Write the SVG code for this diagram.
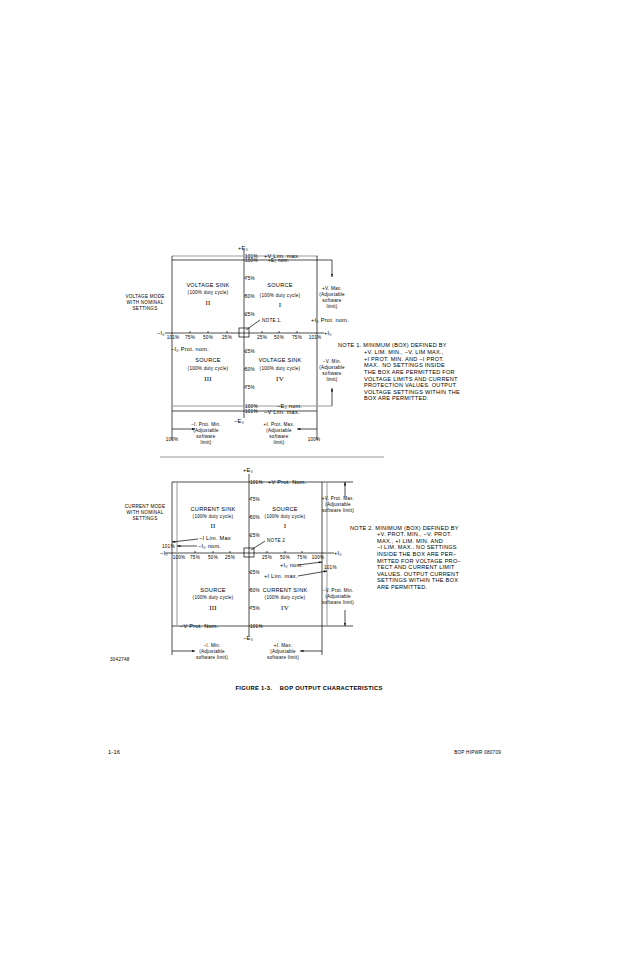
<svg xmlns="http://www.w3.org/2000/svg" width="618" height="954" viewBox="0 0 618 954">
<defs>
<marker id="ar" viewBox="0 0 10 10" refX="10" refY="5" markerWidth="5" markerHeight="5" orient="auto"><path d="M0,2 L10,5 L0,8 z" fill="#000"/></marker>
<style>
text{font-family:"Liberation Sans",Arial,sans-serif;fill:#000;letter-spacing:0.25px}
.s{font-size:4.6px}.m{font-size:5.6px}.b{font-size:5.8px;font-weight:bold;letter-spacing:0.3px}
.r{font-family:"Liberation Serif",serif;font-size:7px}
.c{text-anchor:middle}.e{text-anchor:end}
.l{stroke:#000;stroke-width:0.7;fill:none}
.g{stroke:#999;stroke-width:1;fill:none}
.a{stroke:#000;stroke-width:0.7;fill:none;marker-end:url(#ar)}
</style>
</defs>
<rect width="618" height="954" fill="#fff"/>
<g id="connectors">
<line class="l" x1="244" y1="250" x2="244" y2="418"/>
<line class="l" x1="165" y1="333" x2="324" y2="333"/>
<line class="g" x1="172" y1="256" x2="318" y2="256"/>
<line class="l" x1="172" y1="260" x2="332" y2="260"/>
<line class="a" x1="332" y1="260" x2="332" y2="277"/>
<line class="l" x1="172" y1="256" x2="172" y2="440"/>
<line class="l" x1="317" y1="256" x2="317" y2="440"/>
<line class="g" x1="172" y1="406" x2="332" y2="406"/>
<line class="a" x1="332" y1="406" x2="332" y2="388"/>
<line class="l" x1="172" y1="411" x2="317" y2="411"/>
<rect class="l" x="239" y="328" width="10" height="9"/>
<line class="l" x1="246" y1="330" x2="260" y2="320"/>
<line class="a" x1="172" y1="429" x2="195" y2="429"/>
<line class="a" x1="317" y1="429" x2="297" y2="429"/>
<g class="l">
<line x1="244" y1="278" x2="246" y2="278"/><line x1="244" y1="296" x2="246" y2="296"/><line x1="244" y1="314" x2="246" y2="314"/>
<line x1="244" y1="351" x2="246" y2="351"/><line x1="244" y1="369" x2="246" y2="369"/><line x1="244" y1="387" x2="246" y2="387"/>
<line x1="190" y1="331" x2="190" y2="333"/><line x1="208" y1="331" x2="208" y2="333"/><line x1="227" y1="331" x2="227" y2="333"/>
<line x1="262" y1="331" x2="262" y2="333"/><line x1="279" y1="331" x2="279" y2="333"/><line x1="297" y1="331" x2="297" y2="333"/>
</g>
<line class="g" x1="160" y1="457" x2="384" y2="457"/>
<line class="l" x1="249" y1="474" x2="249" y2="636"/>
<line class="l" x1="165" y1="553" x2="334" y2="553"/>
<line class="l" x1="172" y1="482" x2="353" y2="482"/>
<line class="l" x1="172" y1="626" x2="353" y2="626"/>
<line class="l" x1="172" y1="482" x2="172" y2="655"/>
<line class="g" x1="177" y1="482" x2="177" y2="626"/>
<line class="g" x1="327" y1="482" x2="327" y2="626"/>
<line class="l" x1="322" y1="482" x2="322" y2="655"/>
<line class="a" x1="345" y1="497" x2="345" y2="482"/>
<line class="a" x1="345" y1="610" x2="345" y2="626"/>
<rect class="l" x="244" y="548" width="10" height="9"/>
<line class="l" x1="251" y1="550" x2="265" y2="541"/>
<line class="a" x1="198" y1="539" x2="172" y2="542"/>
<line class="a" x1="197" y1="546" x2="177" y2="546"/>
<line class="a" x1="298" y1="565" x2="322" y2="562"/>
<line class="a" x1="298" y1="576" x2="327" y2="571"/>
<line class="a" x1="172" y1="651" x2="195" y2="651"/>
<line class="a" x1="322" y1="651" x2="300" y2="651"/>
<g class="l">
<line x1="249" y1="499" x2="251" y2="499"/><line x1="249" y1="517" x2="251" y2="517"/><line x1="249" y1="535" x2="251" y2="535"/>
<line x1="249" y1="572" x2="251" y2="572"/><line x1="249" y1="590" x2="251" y2="590"/><line x1="249" y1="608" x2="251" y2="608"/>
<line x1="195" y1="551" x2="195" y2="553"/><line x1="213" y1="551" x2="213" y2="553"/><line x1="230" y1="551" x2="230" y2="553"/>
<line x1="267" y1="551" x2="267" y2="553"/><line x1="285" y1="551" x2="285" y2="553"/><line x1="302" y1="551" x2="302" y2="553"/>
</g>
</g>
<g id="top-labels">
<text class="m" x="238" y="250">+E₀</text>
<text class="s" x="245" y="258">101%</text><text class="m" x="264" y="258">+V  Lim.  max.</text>
<text class="s" x="245" y="262">100%</text><text class="s" x="268" y="262">+E₀ nom.</text>
<text class="s" x="245" y="280">75%</text><text class="s" x="245" y="298">50%</text><text class="s" x="245" y="316">25%</text>
<text class="s" x="245" y="353">25%</text><text class="s" x="245" y="371">50%</text><text class="s" x="245" y="389">75%</text>
<text class="s" x="245" y="408">100%</text><text class="m" x="277" y="408">−E₀ nom.</text>
<text class="s" x="245" y="413">101%</text><text class="m" x="264" y="414">−V  Lim.  max.</text>
<text class="m" x="234" y="423">−E₀</text>
<text class="m" x="157" y="335">−I₀</text><text class="m" x="324" y="335">+I₀</text>
<text class="s c" x="173" y="339">101%</text><text class="s c" x="190" y="339">75%</text><text class="s c" x="208" y="339">50%</text><text class="s c" x="227" y="339">25%</text>
<text class="s c" x="262" y="339">25%</text><text class="s c" x="279" y="339">50%</text><text class="s c" x="297" y="339">75%</text><text class="s c" x="315" y="339">101%</text>
<text class="s" x="262" y="322">NOTE 1.</text>
<text class="m" x="311" y="322">+I₀ Prot.  nom.</text>
<text class="m" x="171" y="351">−I₀ Prot.  nom.</text>
<text class="s c" x="145" y="298">VOLTAGE MODE</text><text class="s c" x="145" y="304">WITH NOMINAL</text><text class="s c" x="145" y="310">SETTINGS</text>
<text class="m c" x="208" y="287">VOLTAGE SINK</text><text class="s c" x="208" y="294">(100% duty cycle)</text><text class="r c" x="208" y="305">II</text>
<text class="m c" x="280" y="287">SOURCE</text><text class="s c" x="280" y="297">(100% duty cycle)</text><text class="r c" x="280" y="307">I</text>
<text class="m c" x="208" y="362">SOURCE</text><text class="s c" x="208" y="370">(100% duty cycle)</text><text class="r c" x="208" y="381">III</text>
<text class="m c" x="280" y="362">VOLTAGE SINK</text><text class="s c" x="280" y="370">(100% duty cycle)</text><text class="r c" x="280" y="381">IV</text>
<text class="s c" x="332" y="290">+V. Max.</text><text class="s c" x="332" y="296">(Adjustable</text><text class="s c" x="332" y="302">software</text><text class="s c" x="332" y="308">limit)</text>
<text class="s c" x="332" y="363">−V. Min.</text><text class="s c" x="332" y="369">(Adjustable</text><text class="s c" x="332" y="375">software</text><text class="s c" x="332" y="381">limit)</text>
<text class="s c" x="206" y="426">−I. Prot. Min.</text><text class="s c" x="206" y="432">(Adjustable</text><text class="s c" x="206" y="438">software</text><text class="s c" x="206" y="444">limit)</text>
<text class="s c" x="279" y="426">+I. Prot. Max.</text><text class="s c" x="279" y="432">(Adjustable</text><text class="s c" x="279" y="438">software</text><text class="s c" x="279" y="444">limit)</text>
<text class="s c" x="172" y="441">100%</text><text class="s c" x="314" y="441">100%</text>
</g>
<g id="note1">
<text class="m" x="338" y="347">NOTE 1. MINIMUM (BOX) DEFINED BY</text>
<text class="m" x="364" y="354">+V. LIM. MIN., −V. LIM MAX.,</text>
<text class="m" x="364" y="361">+I PROT. MIN. AND −I PROT.</text>
<text class="m" x="364" y="367">MAX.. NO SETTINGS INSIDE</text>
<text class="m" x="364" y="374">THE BOX ARE PERMITTED FOR</text>
<text class="m" x="364" y="381">VOLTAGE LIMITS AND CURRENT</text>
<text class="m" x="364" y="387">PROTECTION VALUES. OUTPUT</text>
<text class="m" x="364" y="394">VOLTAGE SETTINGS WITHIN THE</text>
<text class="m" x="364" y="400">BOX ARE PERMITTED.</text>
</g>
<g id="bottom-labels">
<text class="m" x="243" y="472">+E₀</text>
<text class="s" x="250" y="484">101%</text><text class="m" x="268" y="484">+V  Prot.  Nom.</text>
<text class="s" x="250" y="501">75%</text><text class="s" x="250" y="519">50%</text><text class="s" x="250" y="537">25%</text>
<text class="s" x="250" y="574">25%</text><text class="s" x="250" y="592">50%</text><text class="s" x="250" y="610">75%</text>
<text class="s" x="250" y="628">101%</text>
<text class="m" x="180" y="628">−V  Prot.  Nom.</text>
<text class="m" x="243" y="640">−E₀</text>
<text class="m" x="160" y="555">−I₀</text><text class="m" x="334" y="555">+I₀</text>
<text class="s c" x="179" y="559">100%</text><text class="s c" x="195" y="559">75%</text><text class="s c" x="213" y="559">50%</text><text class="s c" x="230" y="559">25%</text>
<text class="s c" x="267" y="559">25%</text><text class="s c" x="285" y="559">50%</text><text class="s c" x="302" y="559">75%</text><text class="s c" x="318" y="559">100%</text>
<text class="s" x="267" y="542">NOTE 2</text>
<text class="m" x="199" y="540">−I  Lim.  Max</text>
<text class="s" x="162" y="548">101%</text><text class="m" x="198" y="548">−I₀ nom.</text>
<text class="m" x="280" y="567">+I₀ nom.</text>
<text class="s" x="324" y="569">101%</text>
<text class="m" x="264" y="578">+I  Lim.  max.</text>
<text class="s c" x="145" y="508">CURRENT MODE</text><text class="s c" x="145" y="514">WITH NOMINAL</text><text class="s c" x="145" y="520">SETTINGS</text>
<text class="m c" x="213" y="511">CURRENT SINK</text><text class="s c" x="213" y="518">(100% duty cycle)</text><text class="r c" x="213" y="528">II</text>
<text class="m c" x="285" y="511">SOURCE</text><text class="s c" x="285" y="518">(100% duty cycle)</text><text class="r c" x="285" y="528">I</text>
<text class="m c" x="213" y="592">SOURCE</text><text class="s c" x="213" y="599">(100% duty cycle)</text><text class="r c" x="213" y="610">III</text>
<text class="m c" x="285" y="592">CURRENT SINK</text><text class="s c" x="285" y="599">(100% duty cycle)</text><text class="r c" x="285" y="610">IV</text>
<text class="s c" x="338" y="500">+V. Prot. Max.</text><text class="s c" x="338" y="506">(Adjustable</text><text class="s c" x="338" y="512">software limit)</text>
<text class="s c" x="338" y="592">−V. Prot. Min.</text><text class="s c" x="338" y="598">(Adjustable</text><text class="s c" x="338" y="604">software limit)</text>
<text class="s c" x="212" y="647">−I. Min.</text><text class="s c" x="212" y="653">(Adjustable</text><text class="s c" x="212" y="659">software limit)</text>
<text class="s c" x="283" y="647">+I. Max.</text><text class="s c" x="283" y="653">(Adjustable</text><text class="s c" x="283" y="659">software limit)</text>
<text class="s" x="110" y="661">3042748</text>
</g>
<g id="note2">
<text class="m" x="350" y="530">NOTE 2. MINIMUM (BOX) DEFINED BY</text>
<text class="m" x="377" y="536">+V. PROT. MIN., −V. PROT.</text>
<text class="m" x="377" y="543">MAX., +I LIM. MIN. AND</text>
<text class="m" x="377" y="549">−I LIM. MAX.. NO SETTINGS</text>
<text class="m" x="377" y="556">INSIDE  THE BOX ARE PER−</text>
<text class="m" x="377" y="563">MITTED FOR VOLTAGE PRO−</text>
<text class="m" x="377" y="569">TECT AND CURRENT LIMIT</text>
<text class="m" x="377" y="576">VALUES. OUTPUT CURRENT</text>
<text class="m" x="377" y="582">SETTINGS WITHIN THE BOX</text>
<text class="m" x="377" y="589">ARE PERMITTED.</text>
</g>
<g id="footer">
<text class="b c" x="309" y="690" xml:space="preserve">FIGURE 1-3.    BOP OUTPUT CHARACTERISTICS</text>
<text class="m" x="108" y="754">1-16</text>
<text class="s e" x="501" y="754">BOP HIPWR 080709</text>
</g>
</svg>
